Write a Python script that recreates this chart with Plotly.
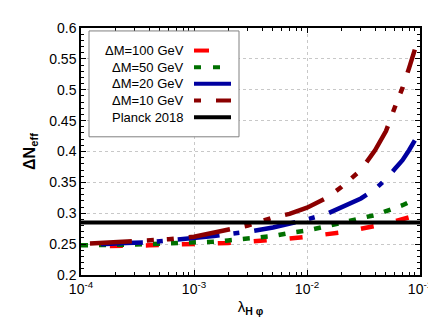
import plotly.graph_objects as go

# ---------------- data ----------------
LAMBDA = [1e-4, 1.2e-4, 1.5e-4, 1.8e-4, 2.5e-4, 4e-4, 6e-4, 1e-3, 1.5e-3, 2e-3, 3e-3,
          5e-3, 7e-3, 1e-2, 1.5e-2, 2e-2, 3e-2, 4e-2, 5e-2, 6e-2, 7e-2, 8e-2, 9e-2]

DM100 = [None, None, None, 0.247, 0.247, 0.248, 0.249, 0.250, 0.251, 0.252, 0.254,
         0.256, 0.259, 0.262, 0.266, 0.269, 0.275, 0.279, 0.283, 0.287, 0.290, 0.293, 0.296]
DM50 = [0.248, 0.248, 0.248, 0.248, 0.249, 0.250, 0.251, 0.252, 0.254, 0.256, 0.259,
        0.263, 0.268, 0.272, 0.279, 0.285, 0.292, 0.297, 0.303, 0.309, 0.313, 0.318, 0.322]
DM20 = [None, None, 0.250, 0.251, 0.252, 0.253, 0.256, 0.259, 0.263, 0.266, 0.270,
        0.277, 0.283, 0.290, 0.299, 0.309, 0.324, 0.339, 0.355, 0.372, 0.386, 0.402, 0.418]
DM10 = [None, 0.251, 0.252, 0.252, 0.253, 0.255, 0.258, 0.262, 0.268, 0.273, 0.280,
        0.293, 0.299, 0.309, 0.325, 0.342, 0.370, 0.402, 0.433, 0.472, 0.503, 0.535, 0.565]

PLANCK_X = [1e-4, 1e-1]
PLANCK = 0.285

SERIES_NAMES = ["ΔM=100 GeV", "ΔM=50 GeV", "ΔM=20 GeV", "ΔM=10 GeV", "Planck 2018"]
COLORS = ["#ff0000", "#007000", "#0000a0", "#8b0000", "#000000"]
DASHES = ["13px,23px", "7px,11px", "42px,14px,6px,15px",
          "42px,15px,7px,13px,7px,15px", "solid"]
LEGEND_DASHES = ["15px,30px", "7px,12px", "solid", "7px,15px,42px,15px", "solid"]

X_TICKS = [1e-4, 1e-3, 1e-2, 1e-1]
X_TICK_TEXT = ["10<sup>-4</sup>", "10<sup>-3</sup>", "10<sup>-2</sup>", "10<sup>-1</sup>"]
Y_RANGE = [0.2, 0.6]

FONT = "Liberation Sans, Arial, sans-serif"

fig = go.Figure()

for name, ys, col, dash in zip(SERIES_NAMES[:4], [DM100, DM50, DM20, DM10], COLORS[:4], DASHES[:4]):
    fig.add_trace(go.Scatter(x=LAMBDA, y=ys, mode="lines", name=name,
                             line=dict(color=col, width=4.5, dash=dash),
                             connectgaps=False, showlegend=False))

fig.add_trace(go.Scatter(x=PLANCK_X, y=[PLANCK, PLANCK], mode="lines",
                         name=SERIES_NAMES[4], line=dict(color=COLORS[4], width=4),
                         showlegend=False))

# ---------- custom gnuplot-style legend (text then sample) ----------
L, R, T, B = 73, 412, 15, 267
W, H = R - L, B - T
def px(x):
    return (x - L) / W
def py(y):
    return (B - y) / H

shapes = [dict(type="rect", xref="paper", yref="paper",
               x0=px(81), x1=px(231), y0=py(126), y1=py(18),
               line=dict(color="#808080", width=1), fillcolor="white", layer="above")]
annotations = []
for i, (name, col, dash) in enumerate(zip(SERIES_NAMES, COLORS, LEGEND_DASHES)):
    yrow = 38 + i * 17
    annotations.append(dict(x=px(178), y=py(yrow), xref="paper", yref="paper",
                            text=name, showarrow=False, xanchor="right", yanchor="middle",
                            font=dict(family=FONT, size=13, color="black")))
    shapes.append(dict(type="line", xref="paper", yref="paper",
                       x0=px(186), x1=px(223), y0=py(yrow), y1=py(yrow),
                       line=dict(color=col, width=4, dash=dash), layer="above"))

fig.update_layout(
    width=436, height=327,
    margin=dict(l=L, r=436 - R, t=T, b=327 - B),
    paper_bgcolor="white", plot_bgcolor="white",
    font=dict(family=FONT, size=13, color="black"),
    shapes=shapes, annotations=annotations,
    showlegend=False,
)

fig.update_xaxes(
    type="log", range=[-4, -1], tickvals=X_TICKS, ticktext=X_TICK_TEXT,
    showline=True, linecolor="black", linewidth=1.5, mirror="allticks",
    ticks="inside", ticklen=5, tickcolor="black",
    minor=dict(ticks="inside", ticklen=3, tickcolor="black", showgrid=False,
               tickvals=[m * 10.0 ** e for e in (-4, -3, -2) for m in range(2, 10)]),
    showgrid=True, gridcolor="#c8c8c8", griddash="dot", gridwidth=1,
    tickfont=dict(family=FONT, size=14),
    title=dict(text="λ<sub><b>H φ</b></sub>", font=dict(family=FONT, size=15), standoff=6),
    zeroline=False,
)
fig.update_yaxes(
    range=Y_RANGE, dtick=0.05, tick0=0.2,
    showline=True, linecolor="black", linewidth=1.5, mirror="allticks",
    ticks="inside", ticklen=5, tickcolor="black",
    minor=dict(ticks="inside", ticklen=3, tickcolor="black", dtick=0.01, showgrid=False),
    showgrid=True, gridcolor="#c8c8c8", griddash="dot", gridwidth=1,
    tickfont=dict(family=FONT, size=14),
    title=dict(text="<b>ΔN<sub>eff</sub></b>", font=dict(family=FONT, size=16), standoff=10),
    zeroline=False,
)

fig.write_html("out.html")
